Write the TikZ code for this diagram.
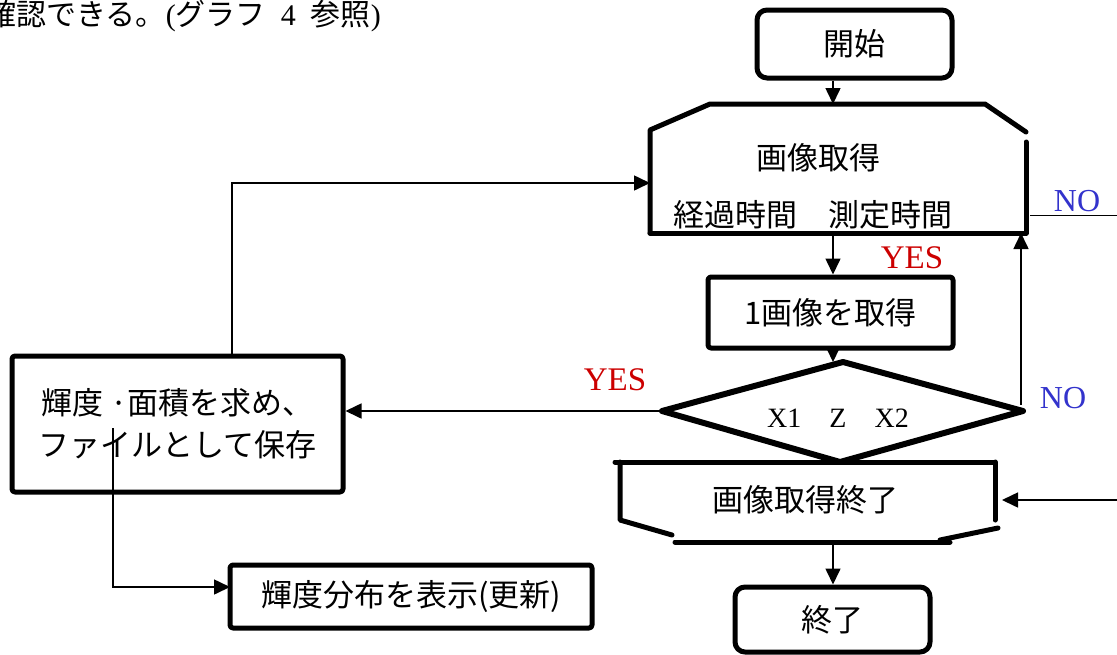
\documentclass[tikz,border=0pt]{standalone}
\usepackage{fontspec}
\newfontfamily\jp{Noto Sans CJK JP}
\newfontfamily\lser{Liberation Serif}
\usetikzlibrary{arrows.meta}
\definecolor{yesred}{HTML}{CC0000}
\definecolor{noblue}{HTML}{3333CC}
\tikzset{
  thickln/.style={line width=5pt, line cap=round, line join=round},
  conn/.style={line width=1.6pt},
  arr/.style={conn, -{Triangle[length=16pt,width=15pt]}},
  jtxt/.style={font=\jp\fontsize{31}{38}\selectfont, inner sep=0pt},
  termbox/.style={draw, thickln, rounded corners=10pt, jtxt},
  procbox/.style={draw, thickln, rounded corners=3pt, jtxt},
  yeslbl/.style={font=\lser\fontsize{33}{38}\selectfont, text=yesred, inner sep=0pt},
  nolbl/.style={font=\lser\fontsize{32}{36}\selectfont, text=noblue, inner sep=0pt},
}
\begin{document}
\begin{tikzpicture}[x=1pt,y=-1pt]
\useasboundingbox (0,0) rectangle (1117,654);

% top running text (cut at left edge)
\node[anchor=east, inner sep=0pt, font=\jp\fontsize{30}{34}\selectfont] (toptext) at (381,16)
  {確認できる。{\lser(}グラフ\hspace{0.5em}{\lser 4}\hspace{0.5em}参照{\lser)}};

% start
\node[termbox, minimum width=195pt, minimum height=68pt] (start) at (854.5,44) {開始};

% image acquisition (loop start)
\draw[thickln] (650,233) -- (650,130) -- (710,104) -- (985,104) -- (1026,132);
\draw[thickln] (1026,142) -- (1026,233) -- (650,233);
\coordinate (acqT) at (833,104);
\coordinate (acqB) at (833,233);
\coordinate (acqL) at (650,183);
\coordinate (acqR) at (1021,233);
\node[jtxt] (acqtxt) at (818,158) {画像取得};
\node[jtxt] (acqsub) at (813,215) {経過時間\hspace{1em}測定時間};

% NO line at top right
\coordinate (noA) at (1030,215);
\coordinate (noB) at (1117,215);
\draw[line width=1pt] (noA) -- (noB);
\node[nolbl] (no1) at (1077,201) {NO};

% one image
\node[procbox, minimum width=245pt, minimum height=71pt] (one) at (830.5,312.5) {1画像を取得};
\node[yeslbl] (yes1) at (912,258) {YES};

% decision diamond
\coordinate (dL) at (662,411);
\coordinate (dT) at (843,362);
\coordinate (dR) at (1023,411);
\coordinate (dB) at (840,462);
\draw[thickln, line width=6pt] (dL) -- (dT) -- (dR) -- (dB) -- cycle;
\node[inner sep=0pt, font=\lser\fontsize{28}{32}\selectfont] (cond) at (838,418) {X1\hspace{1em}Z\hspace{1em}X2};
\node[nolbl] (no2) at (1063,398) {NO};
\node[yeslbl] (yes2) at (615,380) {YES};

% left box
\node[procbox, minimum width=331pt, minimum height=136pt, align=center] (lbox) at (177.5,424)
  {輝度 ·面積を求め、\\[4pt]ファイルとして保存};

% display box
\node[procbox, minimum width=362pt, minimum height=63pt] (disp) at (411,596.5) {輝度分布を表示(更新)};

% end of acquisition (loop end)
\draw[thickln] (615,462) -- (995,462);
\draw[thickln] (620,462) -- (620,520) -- (672,535);
\draw[thickln] (675,542) -- (950,542);
\draw[thickln] (995,462) -- (995,520);
\draw[thickln] (940,540) -- (998,528);
\coordinate (eB) at (833,543);
\coordinate (eR) at (1002,500);
\node[jtxt] (endtxt) at (805,500) {画像取得終了};

% end
\node[termbox, minimum width=195pt, minimum height=65pt] (fin) at (832.5,619.5) {終了};

% connectors
\draw[arr] (start.south -| acqT) -- (acqT);
\draw[arr] (acqB) -- (acqB |- one.north);
\draw[arr] (one.south -| acqB) -- (acqB |- dT);
\coordinate (noloop) at (1021,405);
\draw[arr] (noloop) -- (acqR);
\draw[arr] (dL) -- (dL -| lbox.east);
\coordinate (fb) at (232,356);
\draw[arr] (fb) |- (acqL);
\coordinate (dsrc) at (113,428);
\coordinate (dtgt) at (230,587);
\draw[arr] (dsrc) |- (dtgt);
\coordinate (inR) at (1117,500);
\draw[arr] (inR) -- (eR);
\draw[arr] (eB) -- (eB |- fin.north);
\end{tikzpicture}
\end{document}
